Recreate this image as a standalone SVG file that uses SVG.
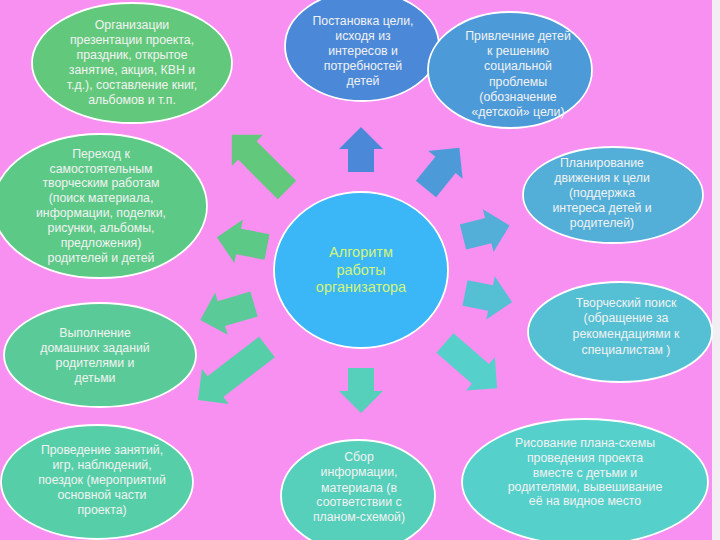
<svg xmlns="http://www.w3.org/2000/svg" width="720" height="540" viewBox="0 0 720 540">
<style>
.n{stroke:#ffffff;stroke-width:1.8}
.t{font-family:"Liberation Sans","DejaVu Sans",sans-serif;font-size:12.3px;fill:#f2f2f2;text-anchor:middle}
.c{font-family:"Liberation Sans","DejaVu Sans",sans-serif;font-size:14.5px;fill:#d2f57a;text-anchor:middle}
</style>
<rect x="0" y="0" width="720" height="540" fill="#f790f0"/>
<rect x="712" y="0" width="8" height="540" fill="#f3eef3"/>
<g id="connectors">
<polygon fill="#4b89d8" transform="translate(361,172) rotate(-90)" points="0,-13 23,-13 23,-22 45,0 23,22 23,13 0,13"/>
<polygon fill="#4c9bd8" transform="translate(426,189) rotate(-51)" points="0,-13 31,-13 31,-22 53,0 31,22 31,13 0,13"/>
<polygon fill="#53afd8" transform="translate(463,237) rotate(-14)" points="0,-13 26,-13 26,-22 48,0 26,22 26,13 0,13"/>
<polygon fill="#55c0d4" transform="translate(465,293) rotate(11)" points="0,-13 26,-13 26,-22 48,0 26,22 26,13 0,13"/>
<polygon fill="#56d0cb" transform="translate(445,343) rotate(41)" points="0,-13 47,-13 47,-22 69,0 47,22 47,13 0,13"/>
<polygon fill="#56cfbb" transform="translate(361,368) rotate(90)" points="0,-13 23,-13 23,-22 45,0 23,22 23,13 0,13"/>
<polygon fill="#56cfa8" transform="translate(267,347) rotate(142.5)" points="0,-13 65,-13 65,-22 87,0 65,22 65,13 0,13"/>
<polygon fill="#5acb98" transform="translate(254,304) rotate(163.5)" points="0,-13 34,-13 34,-22 56,0 34,22 34,13 0,13"/>
<polygon fill="#5cc987" transform="translate(267,247) rotate(-169)" points="0,-13 29,-13 29,-22 51,0 29,22 29,13 0,13"/>
<polygon fill="#62c97c" transform="translate(287,190) rotate(-135)" points="0,-13 56,-13 56,-22 78,0 56,22 56,13 0,13"/>
</g>
<g id="n1">
<ellipse class="n" cx="132" cy="63" rx="100" ry="60" fill="#62c97c"/>
<text class="t" x="132" y="29">Организации</text>
<text class="t" x="132" y="44">презентации проекта,</text>
<text class="t" x="132" y="59">праздник, открытое</text>
<text class="t" x="132" y="74">занятие, акция, КВН и</text>
<text class="t" x="132" y="89">т.д.), составление книг,</text>
<text class="t" x="132" y="104">альбомов и т.п.</text>
</g>
<g id="n2">
<ellipse class="n" cx="362" cy="46" rx="77" ry="55" fill="#4b89d8"/>
<text class="t" x="363" y="25">Постановка цели,</text>
<text class="t" x="363" y="40">исходя из</text>
<text class="t" x="363" y="55">интересов и</text>
<text class="t" x="363" y="70">потребностей</text>
<text class="t" x="363" y="85">детей</text>
</g>
<g id="n3">
<ellipse class="n" cx="510" cy="70" rx="82" ry="58" fill="#4c9bd8"/>
<text class="t" x="518" y="40">Привлечние детей</text>
<text class="t" x="518" y="55">к решению</text>
<text class="t" x="518" y="70">социальной</text>
<text class="t" x="518" y="86">проблемы</text>
<text class="t" x="518" y="101">(обозначение</text>
<text class="t" x="518" y="116">«детской» цели)</text>
</g>
<g id="n4">
<ellipse class="n" cx="613" cy="195" rx="90" ry="48" fill="#53afd8"/>
<text class="t" x="602" y="167">Планирование</text>
<text class="t" x="602" y="182">движения к цели</text>
<text class="t" x="602" y="197">(поддержка</text>
<text class="t" x="602" y="212">интереса детей и</text>
<text class="t" x="602" y="227">родителей)</text>
</g>
<g id="n5">
<ellipse class="n" cx="620" cy="332" rx="92" ry="50" fill="#55c0d4"/>
<text class="t" x="626" y="307">Творческий поиск</text>
<text class="t" x="626" y="322">(обращение за</text>
<text class="t" x="626" y="338">рекомендациями к</text>
<text class="t" x="626" y="354">специалистам )</text>
</g>
<g id="n6">
<ellipse class="n" cx="585" cy="482" rx="123" ry="63" fill="#56d0cb"/>
<text class="t" x="585" y="447">Рисование плана-схемы</text>
<text class="t" x="585" y="462">проведения проекта</text>
<text class="t" x="585" y="477">вместе с детьми и</text>
<text class="t" x="585" y="491">родителями, вывешивание</text>
<text class="t" x="585" y="505">её на видное место</text>
</g>
<g id="n7">
<ellipse class="n" cx="358" cy="496" rx="77" ry="56" fill="#56cfbb"/>
<text class="t" x="359" y="461">Сбор</text>
<text class="t" x="359" y="476">информации,</text>
<text class="t" x="359" y="492">материала (в</text>
<text class="t" x="359" y="506">соответствии с</text>
<text class="t" x="359" y="521">планом-схемой)</text>
</g>
<g id="n8">
<ellipse class="n" cx="97" cy="482" rx="96" ry="57" fill="#56cfa8"/>
<text class="t" x="102" y="454">Проведение занятий,</text>
<text class="t" x="102" y="469">игр, наблюдений,</text>
<text class="t" x="102" y="484">поездок (мероприятий</text>
<text class="t" x="102" y="499">основной части</text>
<text class="t" x="102" y="514">проекта)</text>
</g>
<g id="n9">
<ellipse class="n" cx="100" cy="355" rx="96" ry="52" fill="#5acb98"/>
<text class="t" x="95" y="337">Выполнение</text>
<text class="t" x="95" y="352">домашних заданий</text>
<text class="t" x="95" y="367">родителями и</text>
<text class="t" x="95" y="382">детьми</text>
</g>
<g id="n10">
<ellipse class="n" cx="100" cy="206" rx="107" ry="72" fill="#5cc987"/>
<text class="t" x="101" y="158">Переход к</text>
<text class="t" x="101" y="173">самостоятельным</text>
<text class="t" x="101" y="187">творческим работам</text>
<text class="t" x="101" y="202">(поиск материала,</text>
<text class="t" x="101" y="217">информации, поделки,</text>
<text class="t" x="101" y="232">рисунки, альбомы,</text>
<text class="t" x="101" y="247">предложения)</text>
<text class="t" x="101" y="262">родителей и детей</text>
</g>
<g id="center">
<ellipse class="n" cx="361" cy="270" rx="87" ry="78" fill="#3bb6f6"/>
<text class="c" x="361" y="257">Алгоритм</text>
<text class="c" x="361" y="275">работы</text>
<text class="c" x="361" y="292">организатора</text>
</g>
</svg>
